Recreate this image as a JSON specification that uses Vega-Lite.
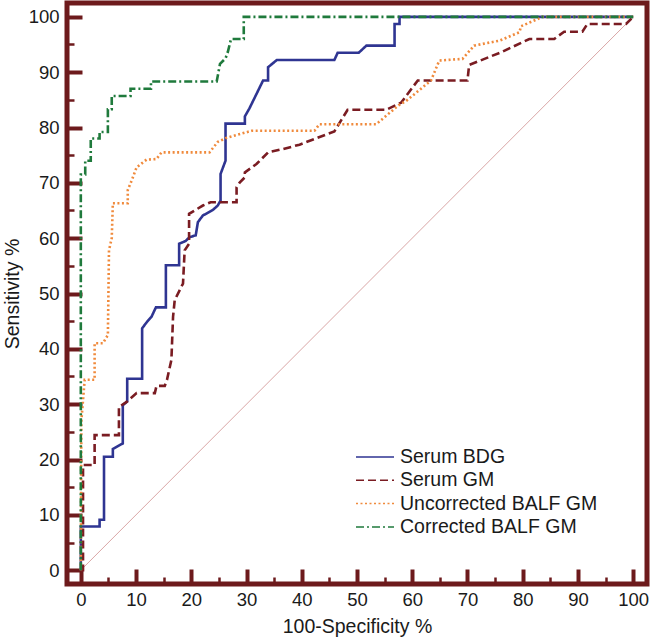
{
  "$schema": "https://vega.github.io/schema/vega-lite/v6.json",
  "width": 580,
  "height": 581,
  "autosize": {"type": "none"},
  "padding": {"left": 67, "top": 3, "right": 5, "bottom": 56},
  "background": "white",
  "datasets": {
    "roc": [
      {"s":"Serum BDG","i":1,"x":0,"y":0},{"s":"Serum BDG","i":2,"x":0,"y":7.9},{"s":"Serum BDG","i":3,"x":3.4,"y":7.9},{"s":"Serum BDG","i":4,"x":3.4,"y":9.1},{"s":"Serum BDG","i":5,"x":4.2,"y":9.1},{"s":"Serum BDG","i":6,"x":4.2,"y":20.5},{"s":"Serum BDG","i":7,"x":5.8,"y":20.5},{"s":"Serum BDG","i":8,"x":5.8,"y":21.9},{"s":"Serum BDG","i":9,"x":7.6,"y":22.9},{"s":"Serum BDG","i":10,"x":7.6,"y":29.8},{"s":"Serum BDG","i":11,"x":8.4,"y":30.5},{"s":"Serum BDG","i":12,"x":8.4,"y":34.6},{"s":"Serum BDG","i":13,"x":11.1,"y":34.6},{"s":"Serum BDG","i":14,"x":11.1,"y":43.7},{"s":"Serum BDG","i":15,"x":12,"y":44.9},{"s":"Serum BDG","i":16,"x":12.8,"y":45.8},{"s":"Serum BDG","i":17,"x":13.6,"y":47.5},{"s":"Serum BDG","i":18,"x":15.4,"y":47.5},{"s":"Serum BDG","i":19,"x":15.4,"y":55.1},{"s":"Serum BDG","i":20,"x":17.8,"y":55.1},{"s":"Serum BDG","i":21,"x":17.8,"y":59},{"s":"Serum BDG","i":22,"x":19,"y":59.5},{"s":"Serum BDG","i":23,"x":19.7,"y":60.2},{"s":"Serum BDG","i":24,"x":20.8,"y":60.5},{"s":"Serum BDG","i":25,"x":21.2,"y":62.9},{"s":"Serum BDG","i":26,"x":22.1,"y":64.1},{"s":"Serum BDG","i":27,"x":23.9,"y":65.1},{"s":"Serum BDG","i":28,"x":24.8,"y":65.9},{"s":"Serum BDG","i":29,"x":25.3,"y":66.8},{"s":"Serum BDG","i":30,"x":25.3,"y":71.6},{"s":"Serum BDG","i":31,"x":26.2,"y":74},{"s":"Serum BDG","i":32,"x":26.2,"y":80.7},{"s":"Serum BDG","i":33,"x":29.7,"y":80.7},{"s":"Serum BDG","i":34,"x":29.7,"y":82},{"s":"Serum BDG","i":35,"x":30.5,"y":83.4},{"s":"Serum BDG","i":36,"x":33,"y":88.5},{"s":"Serum BDG","i":37,"x":33.9,"y":88.5},{"s":"Serum BDG","i":38,"x":33.9,"y":90.9},{"s":"Serum BDG","i":39,"x":35.5,"y":92.2},{"s":"Serum BDG","i":40,"x":45.9,"y":92.2},{"s":"Serum BDG","i":41,"x":46.5,"y":93.5},{"s":"Serum BDG","i":42,"x":50.3,"y":93.5},{"s":"Serum BDG","i":43,"x":51.7,"y":94.8},{"s":"Serum BDG","i":44,"x":56.8,"y":94.8},{"s":"Serum BDG","i":45,"x":56.8,"y":98.7},{"s":"Serum BDG","i":46,"x":57.7,"y":98.7},{"s":"Serum BDG","i":47,"x":57.7,"y":100},{"s":"Serum BDG","i":48,"x":100,"y":100},
      {"s":"Serum GM","i":1,"x":0,"y":0},{"s":"Serum GM","i":2,"x":0.4,"y":0},{"s":"Serum GM","i":3,"x":0.4,"y":19},{"s":"Serum GM","i":4,"x":2.5,"y":19},{"s":"Serum GM","i":5,"x":2.5,"y":24.4},{"s":"Serum GM","i":6,"x":6.9,"y":24.4},{"s":"Serum GM","i":7,"x":6.9,"y":29.5},{"s":"Serum GM","i":8,"x":8.3,"y":30.4},{"s":"Serum GM","i":9,"x":10.1,"y":32},{"s":"Serum GM","i":10,"x":13.4,"y":32},{"s":"Serum GM","i":11,"x":13.7,"y":33.3},{"s":"Serum GM","i":12,"x":15.2,"y":33.3},{"s":"Serum GM","i":13,"x":15.6,"y":34.4},{"s":"Serum GM","i":14,"x":16.4,"y":38},{"s":"Serum GM","i":15,"x":16.7,"y":45.8},{"s":"Serum GM","i":16,"x":17,"y":48.8},{"s":"Serum GM","i":17,"x":18.5,"y":51.8},{"s":"Serum GM","i":18,"x":18.8,"y":57.8},{"s":"Serum GM","i":19,"x":19.6,"y":59},{"s":"Serum GM","i":20,"x":19.6,"y":64.4},{"s":"Serum GM","i":21,"x":22.1,"y":65.9},{"s":"Serum GM","i":22,"x":23.5,"y":66.5},{"s":"Serum GM","i":23,"x":28.2,"y":66.5},{"s":"Serum GM","i":24,"x":28.2,"y":69.2},{"s":"Serum GM","i":25,"x":28.8,"y":70.1},{"s":"Serum GM","i":26,"x":29.7,"y":71},{"s":"Serum GM","i":27,"x":29.7,"y":71.9},{"s":"Serum GM","i":28,"x":31.8,"y":73.4},{"s":"Serum GM","i":29,"x":33.9,"y":75.5},{"s":"Serum GM","i":30,"x":36.6,"y":76.1},{"s":"Serum GM","i":31,"x":39.6,"y":76.9},{"s":"Serum GM","i":32,"x":45.9,"y":79.3},{"s":"Serum GM","i":33,"x":48.3,"y":83.2},{"s":"Serum GM","i":34,"x":55.3,"y":83.2},{"s":"Serum GM","i":35,"x":58,"y":84.5},{"s":"Serum GM","i":36,"x":61,"y":88.5},{"s":"Serum GM","i":37,"x":70,"y":88.5},{"s":"Serum GM","i":38,"x":70.3,"y":91.3},{"s":"Serum GM","i":39,"x":76.1,"y":93.6},{"s":"Serum GM","i":40,"x":81.2,"y":96},{"s":"Serum GM","i":41,"x":85.7,"y":96},{"s":"Serum GM","i":42,"x":87.5,"y":97.3},{"s":"Serum GM","i":43,"x":90.8,"y":97.3},{"s":"Serum GM","i":44,"x":91.7,"y":98.7},{"s":"Serum GM","i":45,"x":98.7,"y":98.7},{"s":"Serum GM","i":46,"x":100,"y":100},
      {"s":"Uncorrected BALF GM","i":1,"x":0,"y":0},{"s":"Uncorrected BALF GM","i":2,"x":0.1,"y":27},{"s":"Uncorrected BALF GM","i":3,"x":0.7,"y":34.4},{"s":"Uncorrected BALF GM","i":4,"x":2.5,"y":34.4},{"s":"Uncorrected BALF GM","i":5,"x":2.5,"y":41},{"s":"Uncorrected BALF GM","i":6,"x":4,"y":41},{"s":"Uncorrected BALF GM","i":7,"x":4.9,"y":42.5},{"s":"Uncorrected BALF GM","i":8,"x":5.1,"y":57.8},{"s":"Uncorrected BALF GM","i":9,"x":5.6,"y":60},{"s":"Uncorrected BALF GM","i":10,"x":5.8,"y":66.3},{"s":"Uncorrected BALF GM","i":11,"x":8.5,"y":66.3},{"s":"Uncorrected BALF GM","i":12,"x":8.5,"y":68.7},{"s":"Uncorrected BALF GM","i":13,"x":9.2,"y":70.4},{"s":"Uncorrected BALF GM","i":14,"x":10.1,"y":72.8},{"s":"Uncorrected BALF GM","i":15,"x":11.9,"y":74.2},{"s":"Uncorrected BALF GM","i":16,"x":13.7,"y":74.3},{"s":"Uncorrected BALF GM","i":17,"x":14.6,"y":75.5},{"s":"Uncorrected BALF GM","i":18,"x":23.3,"y":75.5},{"s":"Uncorrected BALF GM","i":19,"x":24.8,"y":77.4},{"s":"Uncorrected BALF GM","i":20,"x":26.3,"y":78.1},{"s":"Uncorrected BALF GM","i":21,"x":30.9,"y":79.4},{"s":"Uncorrected BALF GM","i":22,"x":42.3,"y":79.4},{"s":"Uncorrected BALF GM","i":23,"x":43.2,"y":80.6},{"s":"Uncorrected BALF GM","i":24,"x":53.5,"y":80.6},{"s":"Uncorrected BALF GM","i":25,"x":57.5,"y":84},{"s":"Uncorrected BALF GM","i":26,"x":58.9,"y":84.8},{"s":"Uncorrected BALF GM","i":27,"x":63.4,"y":88.5},{"s":"Uncorrected BALF GM","i":28,"x":64.9,"y":92.1},{"s":"Uncorrected BALF GM","i":29,"x":69.1,"y":92.4},{"s":"Uncorrected BALF GM","i":30,"x":71.2,"y":94.8},{"s":"Uncorrected BALF GM","i":31,"x":75.8,"y":95.7},{"s":"Uncorrected BALF GM","i":32,"x":79.4,"y":97.2},{"s":"Uncorrected BALF GM","i":33,"x":79.7,"y":98.3},{"s":"Uncorrected BALF GM","i":34,"x":83.6,"y":100},{"s":"Uncorrected BALF GM","i":35,"x":100,"y":100},
      {"s":"Corrected BALF GM","i":1,"x":0,"y":0},{"s":"Corrected BALF GM","i":2,"x":0,"y":71.5},{"s":"Corrected BALF GM","i":3,"x":0.8,"y":71.5},{"s":"Corrected BALF GM","i":4,"x":0.8,"y":74},{"s":"Corrected BALF GM","i":5,"x":1.8,"y":74},{"s":"Corrected BALF GM","i":6,"x":1.8,"y":78},{"s":"Corrected BALF GM","i":7,"x":3.4,"y":78},{"s":"Corrected BALF GM","i":8,"x":3.4,"y":79.2},{"s":"Corrected BALF GM","i":9,"x":4.9,"y":79.2},{"s":"Corrected BALF GM","i":10,"x":4.9,"y":83.3},{"s":"Corrected BALF GM","i":11,"x":5.6,"y":83.3},{"s":"Corrected BALF GM","i":12,"x":5.6,"y":85.7},{"s":"Corrected BALF GM","i":13,"x":9,"y":85.7},{"s":"Corrected BALF GM","i":14,"x":9,"y":87},{"s":"Corrected BALF GM","i":15,"x":12.7,"y":87},{"s":"Corrected BALF GM","i":16,"x":12.7,"y":88.3},{"s":"Corrected BALF GM","i":17,"x":24.6,"y":88.3},{"s":"Corrected BALF GM","i":18,"x":25.2,"y":91.5},{"s":"Corrected BALF GM","i":19,"x":26.2,"y":92.5},{"s":"Corrected BALF GM","i":20,"x":26.6,"y":93.6},{"s":"Corrected BALF GM","i":21,"x":27.2,"y":96},{"s":"Corrected BALF GM","i":22,"x":29.5,"y":96},{"s":"Corrected BALF GM","i":23,"x":29.5,"y":100},{"s":"Corrected BALF GM","i":24,"x":100,"y":100}
    ],
    "diag": [{"x":0,"y":0},{"x":100,"y":100}]
  },
  "layer": [
    {
      "data": {"name": "diag"},
      "mark": {"type": "line", "color": "#cf8f8f", "strokeWidth": 0.8},
      "encoding": {
        "x": {"field": "x", "type": "quantitative", "scale": {"domain": [-2.5, 102.5], "nice": false, "zero": false}, "title": "100-Specificity %"},
        "y": {"field": "y", "type": "quantitative", "scale": {"domain": [-2.5, 102.5], "nice": false, "zero": false}, "title": "Sensitivity %"}
      }
    },
    {
      "data": {"name": "roc"},
      "mark": {"type": "line", "strokeWidth": 2.6},
      "encoding": {
        "x": {"field": "x", "type": "quantitative", "title": "100-Specificity %"},
        "y": {"field": "y", "type": "quantitative", "title": "Sensitivity %"},
        "order": {"field": "i", "type": "quantitative"},
        "color": {
          "field": "s", "type": "nominal",
          "scale": {"domain": ["Serum BDG","Serum GM","Uncorrected BALF GM","Corrected BALF GM"], "range": ["#2f3592","#7a1c22","#f08a3c","#1f7a3c"]},
          "legend": {"orient": "none", "legendX": 288, "legendY": 443, "title": null}
        },
        "strokeDash": {
          "field": "s", "type": "nominal",
          "scale": {"domain": ["Serum BDG","Serum GM","Uncorrected BALF GM","Corrected BALF GM"], "range": [[1,0],[8,4],[2,2.5],[8,3,2,3]]},
          "legend": {"orient": "none", "legendX": 288, "legendY": 443, "title": null}
        }
      }
    }
  ],
  "config": {
    "font": "Liberation Sans",
    "view": {"stroke": "#6d1a1c", "strokeWidth": 5},
    "axis": {
      "grid": false,
      "domain": false,
      "labelFont": "Liberation Sans",
      "labelFontSize": 18.5,
      "labelColor": "#1a1a1a",
      "titleFont": "Liberation Sans",
      "titleFontSize": 19.5,
      "titleFontWeight": "normal",
      "titleColor": "#1a1a1a",
      "tickColor": "#6d1a1c",
      "tickSize": {"condition": {"test": "datum.value % 10 === 0", "value": -15}, "value": -7},
      "tickWidth": {"condition": {"test": "datum.value % 10 === 0", "value": 4}, "value": 2.5},
      "labelPadding": 23,
      "labelExpr": "datum.value % 10 === 0 ? datum.label : ''",
      "values": [0,2.5,5,7.5,10,12.5,15,17.5,20,22.5,25,27.5,30,32.5,35,37.5,40,42.5,45,47.5,50,52.5,55,57.5,60,62.5,65,67.5,70,72.5,75,77.5,80,82.5,85,87.5,90,92.5,95,97.5,100],
      "labelFlush": false,
      "labelOverlap": false,
      "labelBound": false
    },
    "axisX": {"titlePadding": 1, "labelPadding": 21},
    "axisY": {"titlePadding": 6},
    "legend": {
      "symbolType": "stroke",
      "symbolSize": 1444,
      "symbolStrokeWidth": 1.5,
      "labelFont": "Liberation Sans",
      "labelFontSize": 19.5,
      "labelColor": "#1a1a1a",
      "labelOffset": 5,
      "labelLimit": 400,
      "clipHeight": 22,
      "rowPadding": 1.3,
      "padding": 0
    }
  }
}
